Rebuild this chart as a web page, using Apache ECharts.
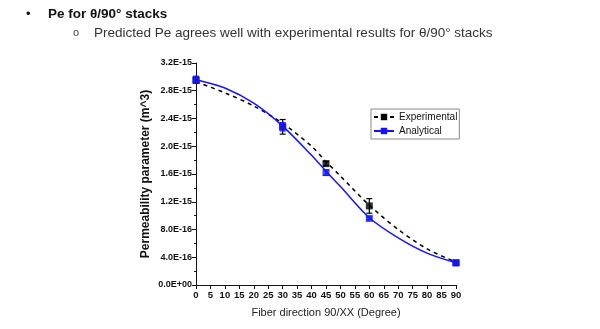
<!DOCTYPE html>
<html><head><meta charset="utf-8">
<script src="https://cdn.jsdelivr.net/npm/echarts@6/dist/echarts.min.js"></script>
<style>html,body{margin:0;padding:0;background:#fff}#c{width:600px;height:329px}</style>
</head><body><div id="c"></div>
<script>
// measured points
const angles = [0, 30, 45, 60, 90];
const experimental = [2.95e-15, 2.28e-15, 1.75e-15, 1.14e-15, 0.32e-15];
const experimentalErr = [0.04e-15, 0.105e-15, 0.03e-15, 0.105e-15, 0.03e-15];
const analytical = [2.96e-15, 2.28e-15, 1.62e-15, 0.96e-15, 0.32e-15];
const analyticalErr = [0.05e-15, 0.06e-15, 0.04e-15, 0.02e-15, 0.03e-15];
// fitted curves
const curveAngles = [0, 10, 20, 30, 40, 45, 50, 60, 70, 80, 90];
const experimentalCurve = [2.93e-15, 2.77e-15, 2.58e-15, 2.33e-15, 2.00e-15, 1.78e-15, 1.57e-15, 1.15e-15, 0.80e-15, 0.52e-15, 0.33e-15];
const analyticalCurve = [2.96e-15, 2.84e-15, 2.62e-15, 2.29e-15, 1.87e-15, 1.64e-15, 1.42e-15, 0.97e-15, 0.68e-15, 0.46e-15, 0.32e-15];
const seriesNames = ['Experimental', 'Analytical'];
const heading = 'Pe for \u03b8/90\u00b0 stacks';
const subheading = 'Predicted Pe agrees well with experimental results for \u03b8/90\u00b0 stacks';
const xTitle = 'Fiber direction 90/XX (Degree)';
const yTitle = 'Permeability parameter (m^3)';

function pairs(xs, ys) { return xs.map((x, i) => [x, ys[i]]); }
function errData(xs, ys, es) { return xs.map((x, i) => [x, ys[i] - es[i], ys[i] + es[i]]); }
function errRender(color) {
  return function (params, api) {
    const x = api.value(0);
    const lo = api.coord([x, api.value(1)]);
    const hi = api.coord([x, api.value(2)]);
    const w = 3;
    const st = { stroke: color, lineWidth: 1.2 };
    return { type: 'group', children: [
      { type: 'line', shape: { x1: lo[0], y1: lo[1], x2: hi[0], y2: hi[1] }, style: st },
      { type: 'line', shape: { x1: lo[0] - w, y1: lo[1], x2: lo[0] + w, y2: lo[1] }, style: st },
      { type: 'line', shape: { x1: hi[0] - w, y1: hi[1], x2: hi[0] + w, y2: hi[1] }, style: st }
    ]};
  };
}
function fmt(v) {
  if (Math.abs(v) < 1e-20) return '0.0E+00';
  return v.toExponential(1).toUpperCase();
}
const chart = echarts.init(document.getElementById('c'), null, { renderer: 'canvas' });
const blue = '#1414ff';
chart.setOption({
  animation: false,
  backgroundColor: '#fff',
  textStyle: { fontFamily: 'Liberation Sans, Arial, sans-serif' },
  graphic: [
    { type: 'text', left: 26, top: 8, style: { text: '\u2022', font: '13px Liberation Sans', fill: '#111' } },
    { type: 'text', left: 48, top: 7, style: { text: heading, font: 'bold 13.5px Liberation Sans', fill: '#111' } },
    { type: 'text', left: 73, top: 27, style: { text: 'o', font: '11px Liberation Sans', fill: '#444' } },
    { type: 'text', left: 94, top: 26, style: { text: subheading, font: '13.5px Liberation Sans', fill: '#333' } }
  ],
  grid: { left: 196, right: 144, top: 63, bottom: 44 },
  legend: {
    data: seriesNames, orient: 'vertical', left: 371, top: 109,
    backgroundColor: '#fff', borderColor: '#888', borderWidth: 1,
    padding: [3, 2, 3, 2], itemGap: 4, itemWidth: 20, itemHeight: 8,
    textStyle: { fontSize: 10, color: '#111', fontFamily: 'Liberation Sans' }
  },
  xAxis: {
    type: 'value', min: 0, max: 90, interval: 5,
    name: xTitle, nameLocation: 'middle', nameGap: 22,
    nameTextStyle: { fontSize: 11, color: '#222' },
    axisLine: { lineStyle: { color: '#111', width: 1 } },
    axisTick: { length: 4, lineStyle: { color: '#111' } },
    axisLabel: { fontSize: 9.5, fontWeight: 'bold', color: '#111', margin: 5 },
    splitLine: { show: false }
  },
  yAxis: {
    type: 'value', min: 0, max: 3.2e-15, interval: 0.4e-15,
    name: yTitle, nameLocation: 'middle', nameGap: 44, nameRotate: 90,
    nameTextStyle: { fontSize: 12, fontWeight: 'bold', color: '#111' },
    axisLine: { show: true, lineStyle: { color: '#111', width: 1 } },
    axisTick: { show: true, length: 4, lineStyle: { color: '#111' } },
    minorTick: { show: true, splitNumber: 2, length: 2, lineStyle: { color: '#111' } },
    axisLabel: { fontSize: 9, fontWeight: 'bold', color: '#111', margin: 4, formatter: fmt },
    splitLine: { show: false }
  },
  series: [
    { name: seriesNames[0], type: 'line', data: pairs(curveAngles, experimentalCurve), smooth: 0.3,
      symbol: 'rect', symbolSize: 7, showSymbol: false, color: '#000',
      lineStyle: { color: '#000', width: 1.5, type: [4, 4] }, itemStyle: { color: '#000' }, z: 2 },
    { name: seriesNames[0], type: 'scatter', data: pairs(angles, experimental),
      symbol: 'rect', symbolSize: 7, itemStyle: { color: '#000' }, z: 2 },
    { name: 'expErr', type: 'custom', data: errData(angles, experimental, experimentalErr),
      renderItem: errRender('#000'), encode: { x: 0, y: [1, 2] }, z: 2 },
    { name: seriesNames[1], type: 'line', data: pairs(curveAngles, analyticalCurve), smooth: 0.3,
      symbol: 'rect', symbolSize: 7, showSymbol: false, color: blue,
      lineStyle: { color: blue, width: 1.5 }, itemStyle: { color: blue }, z: 3 },
    { name: seriesNames[1], type: 'scatter', data: pairs(angles, analytical),
      symbol: 'rect', symbolSize: 7, itemStyle: { color: blue }, z: 3 },
    { name: 'anaErr', type: 'custom', data: errData(angles, analytical, analyticalErr),
      renderItem: errRender(blue), encode: { x: 0, y: [1, 2] }, z: 3 }
  ]
});
</script></body></html>
